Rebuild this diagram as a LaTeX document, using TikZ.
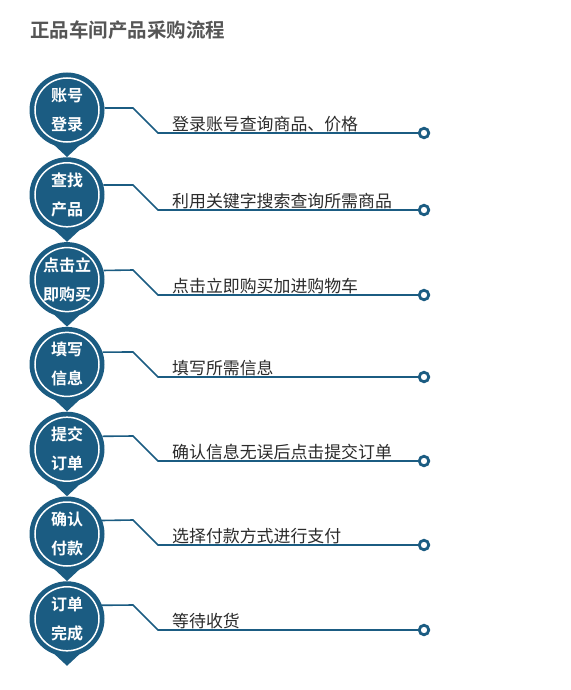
\documentclass[tikz,border=0pt]{standalone}
\usepackage{fontspec}
\newfontfamily\cjk{Noto Sans CJK SC}
\newfontfamily\cjkb{Noto Sans CJK SC Bold}
\definecolor{mainblue}{HTML}{1B5C82}
\definecolor{titlegray}{HTML}{555555}
\definecolor{txtgray}{HTML}{2B2B2B}
\tikzset{
  stepcirc/.style={circle, fill=mainblue, minimum size=75pt, inner sep=0pt},
  ringcirc/.style={draw=white, line width=1.5pt},
  conn/.style={draw=mainblue, line width=1.6pt},
  enddot/.style={circle, draw=mainblue, fill=white, line width=2.8pt, minimum size=9.5pt, inner sep=0pt},
  desc/.style={anchor=base west, inner sep=0pt, font=\cjk\fontsize{16.9}{18}\selectfont, text=txtgray},
  steplab/.style={align=center, text=white, font=\cjkb\fontsize{16}{29}\selectfont, inner sep=0pt},
}
\begin{document}
\begin{tikzpicture}[x=1pt,y=-1pt]
\useasboundingbox (0,0) rectangle (570,690);
\fill[white] (0,0) rectangle (570,690);
\node[anchor=west, inner sep=0pt, text=titlegray, font=\cjkb\fontsize{19.5}{22}\selectfont] (title) at (30,30) {正品车间产品采购流程};
\foreach \i/\dy/\a/\b/\t in {
  1/133/账号/登录/登录账号查询商品、价格,
  2/210/查找/产品/利用关键字搜索查询所需商品,
  3/295/点击立/即购买/点击立即购买加进购物车,
  4/377/填写/信息/填写所需信息,
  5/461/提交/订单/确认信息无误后点击提交订单,
  6/545/确认/付款/选择付款方式进行支付,
  7/630/订单/完成/等待收货}{
  \pgfmathsetmacro{\cy}{110+84.8*(\i-1)}
  \pgfmathsetmacro{\ang}{asin((\cy-(\dy-25))/37.5)}
  \fill[mainblue] (52,\cy+33) -- (67,\cy+47) -- (82,\cy+33) -- cycle;
  \node[stepcirc] (c\i) at (67,\cy) {};
  \draw[ringcirc] (c\i.center) circle (32pt);
  \node[steplab] (l\i) at (67,\cy) {\a\\\b};
  \node[enddot] (d\i) at (424,\dy) {};
  \node[desc] (t\i) at (172,\dy-3) {\t};
  \draw[conn] (c\i.\ang) -- (133,\dy-25) -- (158,\dy) -- (d\i.west);
}
\end{tikzpicture}
\end{document}
